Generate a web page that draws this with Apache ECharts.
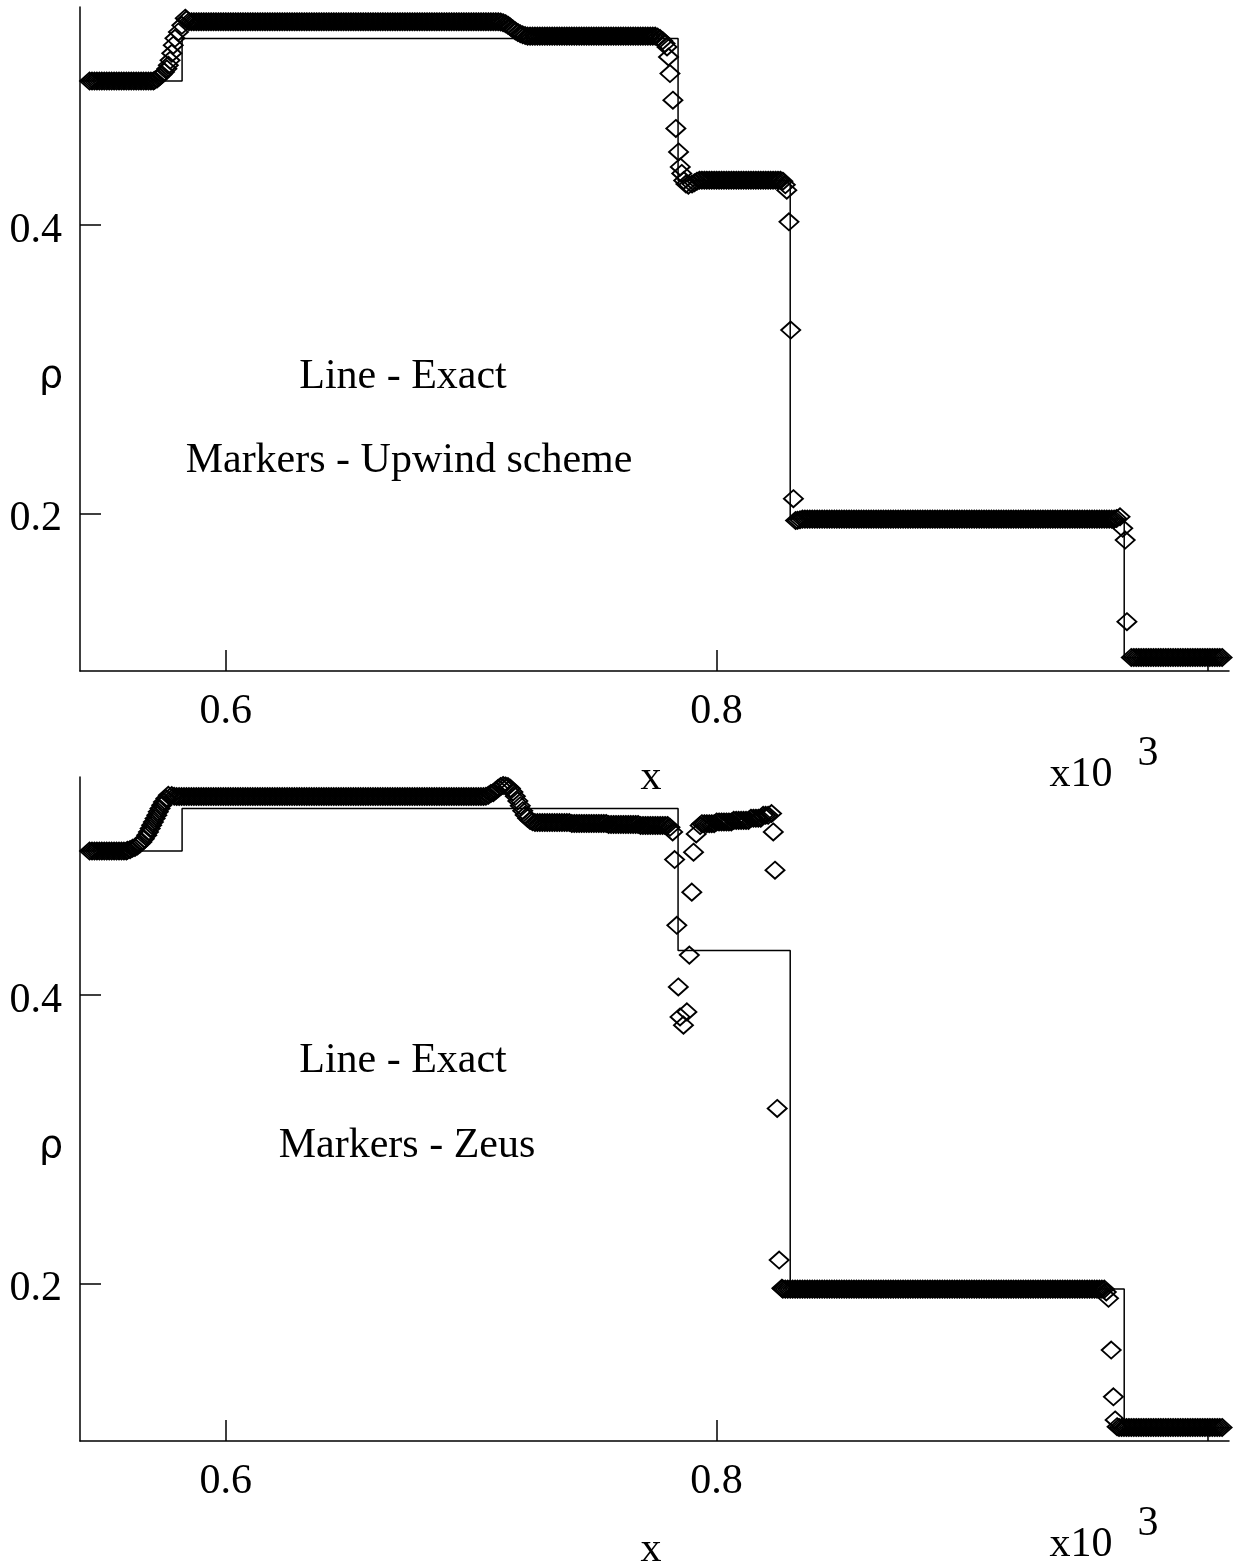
<!DOCTYPE html>
<html>
<head>
<meta charset="utf-8">
<script src="https://cdn.jsdelivr.net/npm/echarts@6/dist/echarts.min.js"></script>
<style>
html,body{margin:0;padding:0;background:#fff;}
#chart{width:1233px;height:1564px;}
</style>
</head>
<body>
<div id="chart"></div>
<script>
// ---------------- data (x in units of 10^3, rho) ----------------
const cellDx = 0.001;

// exact solution (step function, value holds until next x)
const exactX   = [0.5406, 0.5822, 0.7843, 0.8300, 0.9661, 1.0088];
const exactRho = [0.5,    0.5295, 0.431,  0.196,  0.1,    0.1];

// Upwind scheme: constant plateaus [xStart, xEnd, rho]
const upwindPlateaus = [
  [0.5445, 0.5705, 0.5],
  [0.585, 0.711, 0.5412],
  [0.723, 0.775, 0.5312],
  [0.793, 0.826, 0.4312],
  [0.835, 0.962, 0.196],
  [0.969, 1.006, 0.1]
];
// Upwind scheme: individual cells in transitions
const upwindTransX = [
  0.571, 0.572, 0.573, 0.574, 0.575, 0.576, 0.5766, 0.5773, 0.578, 0.5786, 0.5793, 0.5807, 0.5821, 0.5835, 0.584,
  0.712, 0.713, 0.714, 0.715, 0.716, 0.717, 0.718, 0.719, 0.720, 0.721, 0.722,
  0.776, 0.777, 0.778, 0.779, 0.7798, 0.7804, 0.7810, 0.7822, 0.7834, 0.7845, 0.7852, 0.7858, 0.7866, 0.7875, 0.7885, 0.790, 0.791, 0.792,
  0.827, 0.828, 0.8286, 0.8295, 0.8302, 0.8313, 0.8322, 0.833, 0.834,
  0.963, 0.9644, 0.9655, 0.9665, 0.9672
];
const upwindTransRho = [
  0.5005, 0.5015, 0.503, 0.5045, 0.5063, 0.5085, 0.511, 0.5144, 0.5193, 0.5249, 0.5297, 0.5341, 0.5387, 0.5436, 0.5425,
  0.5410, 0.5405, 0.5398, 0.5388, 0.5375, 0.5361, 0.5348, 0.5337, 0.5328, 0.5321, 0.5316,
  0.5305, 0.5295, 0.528, 0.526, 0.5237, 0.5167, 0.5052, 0.4867, 0.4671, 0.4508, 0.4404, 0.4359, 0.431, 0.4285, 0.4278, 0.4285, 0.4295, 0.4305,
  0.4305, 0.428, 0.4243, 0.4023, 0.3272, 0.2102, 0.195, 0.1952, 0.1955,
  0.1965, 0.1976, 0.1896, 0.1815, 0.1248
];

// Zeus scheme: constant plateaus [xStart, xEnd, rho]
const zeusPlateaus = [
  [0.5445, 0.559, 0.5],
  [0.580, 0.705, 0.5378],
  [0.726, 0.740, 0.5198],
  [0.741, 0.755, 0.5192],
  [0.756, 0.768, 0.5185],
  [0.769, 0.780, 0.5178],
  [0.794, 0.799, 0.519],
  [0.800, 0.806, 0.5202],
  [0.807, 0.813, 0.5213],
  [0.814, 0.818, 0.5228],
  [0.819, 0.821, 0.5248],
  [0.827, 0.958, 0.196],
  [0.964, 1.006, 0.1]
];
const zeusTransX = [
  0.560, 0.561, 0.562, 0.563, 0.564, 0.565, 0.5658, 0.5668, 0.5678, 0.5685, 0.5692, 0.5698, 0.5705, 0.5712, 0.5719, 0.5725, 0.5732, 0.5739, 0.5746, 0.5756, 0.5766, 0.578, 0.579,
  0.706, 0.707, 0.708, 0.709, 0.710, 0.711, 0.712, 0.713, 0.714, 0.715, 0.716, 0.717, 0.718, 0.719, 0.720, 0.721, 0.722, 0.723, 0.724, 0.725,
  0.781, 0.7821, 0.7829, 0.7838, 0.7844, 0.7851, 0.7865, 0.7879, 0.7889, 0.7899, 0.7906, 0.7917, 0.7933,
  0.8224, 0.8231, 0.8238, 0.8247, 0.8255, 0.8266,
  0.9588, 0.9597, 0.9608, 0.9617, 0.9624, 0.9632
];
const zeusTransRho = [
  0.5005, 0.501, 0.502, 0.5025, 0.5035, 0.505, 0.5063, 0.5085, 0.511, 0.5133, 0.5156, 0.518, 0.5202, 0.5226, 0.5249, 0.5272, 0.5295, 0.5318, 0.5341, 0.5364, 0.5387, 0.5385, 0.538,
  0.538, 0.5388, 0.540, 0.5405, 0.542, 0.5435, 0.5448, 0.5455, 0.5452, 0.5448, 0.5435, 0.541, 0.538, 0.5348, 0.5315, 0.528, 0.525, 0.5228, 0.5212, 0.5203,
  0.5165, 0.5133, 0.4941, 0.4485, 0.4057, 0.3849, 0.3792, 0.3884, 0.4278, 0.4715, 0.4992, 0.5119, 0.5177,
  0.526, 0.5133, 0.4867, 0.3214, 0.2162, 0.1966,
  0.194, 0.1896, 0.1537, 0.1213, 0.1052, 0.1005
];

// axes
const xMin = 0.5406, xMax = 1.0088;
const yMin = 0.0906, yMax = 0.5514;
const xTicks = [0.6, 0.8, 1.0];
const xTickLabels = [0.6, 0.8];
const yTicks = [0.2, 0.4];

// --------------- build point lists ---------------
function buildPoints(plateaus, tx, tr) {
  const pts = [];
  plateaus.forEach(p => {
    const n = Math.round((p[1] - p[0]) / cellDx);
    for (let i = 0; i <= n; i++) pts.push([+(p[0] + i * cellDx).toFixed(4), p[2]]);
  });
  tx.forEach((x, i) => pts.push([x, tr[i]]));
  pts.sort((a, b) => a[0] - b[0]);
  return pts;
}
const upwindPts = buildPoints(upwindPlateaus, upwindTransX, upwindTransRho);
const zeusPts = buildPoints(zeusPlateaus, zeusTransX, zeusTransRho);
const exactPts = exactX.map((x, i) => [x, exactRho[i]]);

const serif = "'Liberation Serif','Times New Roman',serif";
const FS = 42;

function xAxisCfg(gi) {
  return {
    type: 'value', gridIndex: gi, min: xMin, max: xMax,
    axisLine: { show: true, onZero: false, lineStyle: { color: '#000', width: 1.5 } },
    axisTick: { show: true, inside: true, length: 21, customValues: xTicks, lineStyle: { color: '#000', width: 1.5 } },
    axisLabel: { show: true, customValues: xTickLabels, margin: 20, color: '#000', fontFamily: serif, fontSize: FS,
                 formatter: v => v.toFixed(1) },
    splitLine: { show: false }
  };
}
function yAxisCfg(gi) {
  return {
    type: 'value', gridIndex: gi, min: yMin, max: yMax,
    axisLine: { show: true, onZero: false, lineStyle: { color: '#000', width: 1.5 } },
    axisTick: { show: true, inside: true, length: 21, customValues: yTicks, lineStyle: { color: '#000', width: 1.5 } },
    axisLabel: { show: true, customValues: yTicks, margin: 18, color: '#000', fontFamily: serif, fontSize: FS,
                 verticalAlign: 'top', lineHeight: 12, formatter: v => v.toFixed(1) },
    splitLine: { show: false }
  };
}
function markerSeries(pts, gi) {
  return {
    type: 'scatter', xAxisIndex: gi, yAxisIndex: gi, data: pts,
    symbol: 'diamond', symbolSize: [19, 17],
    itemStyle: { color: 'rgba(0,0,0,0)', borderColor: '#000', borderWidth: 1.9, opacity: 1 },
    large: false, silent: true, z: 3
  };
}
function exactSeries(gi) {
  return {
    type: 'line', xAxisIndex: gi, yAxisIndex: gi, data: exactPts, step: 'end',
    showSymbol: false, symbol: 'none', lineStyle: { color: '#000', width: 1.5 }, silent: true, z: 2, clip: true
  };
}
function txt(text, x, y, opts) {
  return {
    type: 'text', x: x, y: y, silent: true,
    style: Object.assign({ text: text, font: FS + 'px ' + serif, fill: '#000', textAlign: 'center', textVerticalAlign: 'middle' }, opts || {})
  };
}
const rhoFont = "38px 'DejaVu Sans', sans-serif";

const chart = echarts.init(document.getElementById('chart'), null, { renderer: 'canvas' });
chart.setOption({
  animation: false,
  backgroundColor: '#fff',
  grid: [
    { left: 80, top: 7, width: 1149, height: 664 },
    { left: 80, top: 777, width: 1149, height: 664 }
  ],
  xAxis: [xAxisCfg(0), xAxisCfg(1)],
  yAxis: [yAxisCfg(0), yAxisCfg(1)],
  series: [exactSeries(0), markerSeries(upwindPts, 0), exactSeries(1), markerSeries(zeusPts, 1)],
  graphic: [
    txt('Line - Exact', 403, 377),
    txt('Markers - Upwind scheme', 409, 461),
    txt('ρ', 51, 377, { font: rhoFont }),
    txt('x', 651, 778),
    txt('x10', 1081, 775),
    txt('3', 1148, 754),
    txt('Line - Exact', 403, 1061),
    txt('Markers - Zeus', 407, 1146),
    txt('ρ', 51, 1147, { font: rhoFont }),
    txt('x', 651, 1550),
    txt('x10', 1081, 1545),
    txt('3', 1148, 1524)
  ]
});
</script>
</body>
</html>
